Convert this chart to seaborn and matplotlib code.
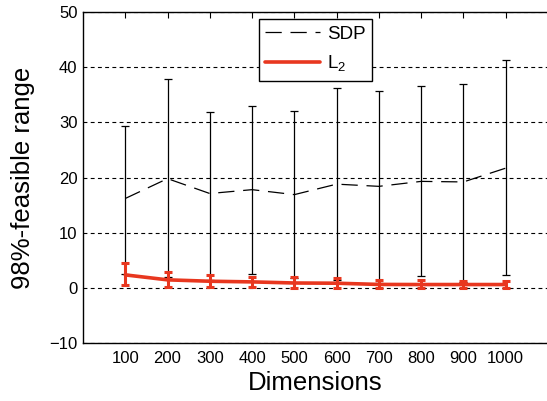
import matplotlib
matplotlib.use("Agg")
import matplotlib.pyplot as plt
import seaborn as sns
import pandas as pd

dims = [100, 200, 300, 400, 500, 600, 700, 800, 900, 1000]
sdp_mid = [16.2, 19.8, 17.1, 17.8, 16.9, 18.8, 18.4, 19.3, 19.2, 21.7]
sdp_hi = [29.4, 37.8, 31.9, 33.0, 32.0, 36.2, 35.6, 36.6, 37.0, 41.3]
sdp_lo = [2.6, 2.0, 1.5, 2.5, 1.7, 1.4, 0.9, 2.2, 1.0, 2.3]
l2_mid = [2.35, 1.45, 1.2, 1.08, 0.88, 0.84, 0.62, 0.6, 0.6, 0.6]
l2_hi = [4.45, 2.8, 2.35, 2.05, 1.93, 1.8, 1.45, 1.45, 1.2, 1.25]
l2_lo = [0.45, 0.12, 0.12, 0.08, 0.05, 0.05, 0.02, 0.02, 0.02, 0.02]
y_ticks = [-10, 0, 10, 20, 30, 40, 50]

sns.set_theme(style="white")
plt.rcParams['font.family'] = ['Liberation Sans', 'DejaVu Sans']
plt.rcParams['text.color'] = 'black'
plt.rcParams['axes.labelcolor'] = 'black'
plt.rcParams['mathtext.fontset'] = 'custom'
plt.rcParams['mathtext.rm'] = 'Liberation Sans'

df = pd.DataFrame({
    "Dimensions": dims * 2,
    "value": sdp_mid + l2_mid,
    "method": ["SDP"] * len(dims) + ["L2"] * len(dims),
})

fig = plt.figure(figsize=(5.47, 4.01), dpi=100)
ax = fig.add_axes([0.1517, 0.1446, 0.8501, 0.8254])

red = "#E8371F"

ax.errorbar(dims, sdp_mid,
            yerr=[[m - l for m, l in zip(sdp_mid, sdp_lo)], [h - m for m, h in zip(sdp_mid, sdp_hi)]],
            fmt="none", ecolor="black", elinewidth=0.9, capsize=3, capthick=0.9, zorder=2)

sns.lineplot(data=df[df.method == "SDP"], x="Dimensions", y="value", ax=ax,
             color="black", lw=0.9, label="SDP", zorder=3)
ax.lines[-1].set_dashes([13, 7])

ax.errorbar(dims, l2_mid,
            yerr=[[m - l for m, l in zip(l2_mid, l2_lo)], [h - m for m, h in zip(l2_mid, l2_hi)]],
            fmt="none", ecolor=red, elinewidth=2.2, capsize=3, capthick=2.2, zorder=4)
sns.lineplot(data=df[df.method == "L2"], x="Dimensions", y="value", ax=ax,
             color=red, lw=2.6, label="L$_\\mathregular{2}$", zorder=5)

ax.set_xlim(0, 1100)
ax.set_ylim(-10, 50)
ax.set_xticks(dims)
ax.set_yticks(y_ticks)
ax.tick_params(axis="both", direction="in", length=4, width=0.8, labelsize=12,
               top=True, right=False, colors="black", pad=4)
ax.tick_params(axis="x", pad=6)

ax.yaxis.grid(True, color="black", linestyle=(0, (3.5, 3)), linewidth=0.8)
ax.xaxis.grid(False)
for s in ["left", "bottom", "top"]:
    ax.spines[s].set_color("black")
    ax.spines[s].set_linewidth(1.0)
ax.spines["right"].set_visible(False)

ax.set_xlabel("Dimensions", fontsize=18.5, labelpad=3)
ax.set_ylabel("98%-feasible range", fontsize=18.5, labelpad=10)

leg = ax.legend(loc="upper center", bbox_to_anchor=(0.5, 0.979), fontsize=13.5,
                frameon=True, fancybox=False, edgecolor="black", framealpha=1,
                handlelength=2.9, handletextpad=0.4, borderpad=0.35, labelspacing=0.6,
                borderaxespad=0)
leg.get_frame().set_linewidth(1.0)

fig.savefig("out.png", dpi=100)
